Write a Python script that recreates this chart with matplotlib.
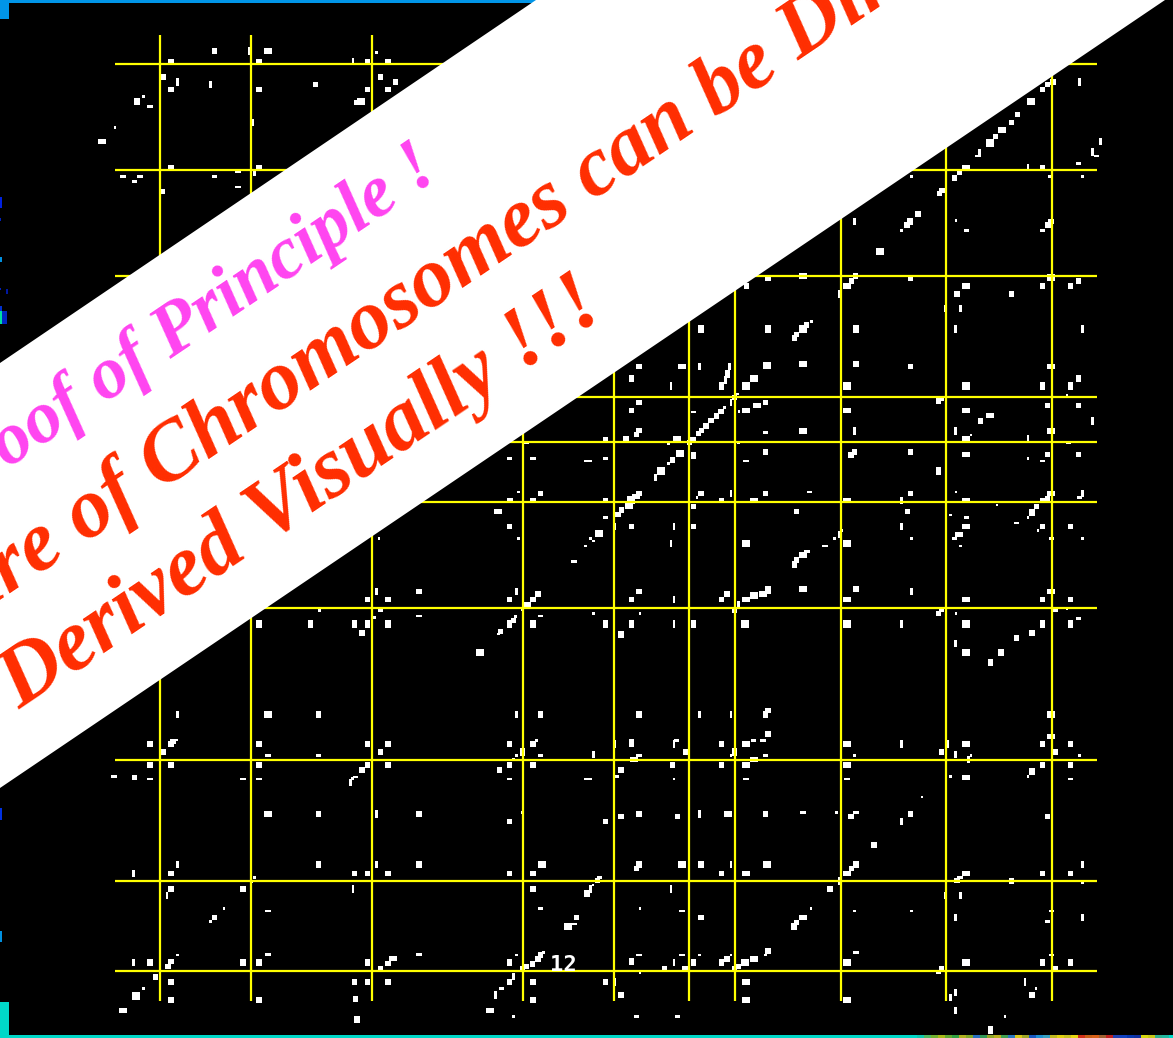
import numpy as np
import matplotlib
matplotlib.use("Agg")
import matplotlib.pyplot as plt
from matplotlib.patches import Polygon

# Dot-plot matches, per quadrant (crop readings), per dot shape
nw_s = [(1001,157),(381,289),(306,382),(1378,1476),(667,529)]
nw_m = [(454,184),(688,184),(976,184),(1031,184),(433,231),(1011,231),(1051,246),(454,269),(688,269),(839,254),(976,269),(1031,269),(570,153),(454,502),(688,502),(1355,1501),(1416,1501),(1437,1480),(430,575),(947,308)]
nw_l = [(959,304)]
nw_t = [(664,153),(938,184),(471,246),(560,254),(670,367),(677,518)]
nw_T = [(364,304)]
nw_w = [(399,320),(327,529),(372,529),(358,545),(570,529),(632,514),(632,561),(1354,1375),(1416,1375),(1560,1383),(1400,1329)]
nw_W = [(712,153),(271,425),(1323,1534)]

ne_s = [(865,529),(984,661),(838,692),(1325,529),(595,965),(1283,1187),(397,1182),(401,1234),(362,1222),(399,1329),(211,1330),(211,1390),(1025,1305),(1178,1375),(2,1383),(288,1492),(984,1476),(1095,1515),(1178,1553),(970,1545)]
ne_m = [(1217,269),(1230,254),(1245,246),(1090,410),(1133,367),(1150,344),(1217,502),(993,518),(981,534),(947,572),(940,580),(882,642),(853,675),(1232,675),(1240,665),
        (479,834),(862,836),(714,828),(703,843),(421,858),(1217,858),(1293,858),(1314,843),(987,882),(1133,882),(583,975),(556,1003),(550,1014),
        (132,1100),(862,1100),(715,1092),(938,1203),(388,1192),(132,1208),(472,1208),(1230,1216),(1314,1216),(111,1232),(1050,1263),(352,1235),(340,1248),(325,1262),(312,1278),(300,1292),(292,1300),
        (132,1292),(125,1303),(41,1319),(97,1317),(268,1327),(222,1380),(472,1356),(711,1356),(702,1365),(862,1356),(1230,1363),(1314,1363),
        (132,1480),(298,1480),(472,1480),(862,1480),(1230,1497),(41,1501),(85,1530),(75,1543),(354,1501),(278,1519),(556,1534),(854,1534),(1201,1519)]
ne_l = [(1185,304),(1075,429),(781,754),(1241,832),(572,987),(476,1096),(441,1135),(420,1158),(691,1158),(1012,1158),(241,1360),(190,1413),(105,1517),(110,1500)]
ne_t = [(1178,502),(1047,458),(1373,425),(1352,456),(712,665),(1317,246),(671,882),(955,925),(997,925),(984,987),(1325,987),(295,1100),(376,1100),(365,1140),(218,1158),(379,1208),(1352,1263),(712,1293),(984,1293),(1178,1317),(177,1433),(379,1480),(1325,1480),(838,1501)]
ne_T = [(861,665),(298,987),(479,987),(715,987),(370,1122),(354,1158),(111,1135),(1217,1158),(1293,1158),(1314,1135),(278,1367),(938,1413),(1189,1538)]
ne_w = [(1043,468),(1238,529),(1314,491),(1362,468),(1012,692),(1217,692),(278,1236),(472,1297),(1287,1329),(420,1383),(1217,1383),(41,1375),(591,1476),(1317,1492),(1012,1553),(41,1553)]
ne_W = [(1109,390),(1012,502),(691,858),(573,828),(1012,858),(247,1100),(573,1092),(1241,1100),(942,1195),(450,1216),(420,1232),(691,1232),(1012,1232),(1075,1247),(233,1317),(275,1319),(1241,1293),(573,1293),(1012,1317),(1012,1363),(1241,1480),(1220,1501),(125,1490),(441,1501),(691,1501),(1012,1501)]

sw_s = [(1007,55),(1378,55),(1556,78),(1389,270),(849,272),(995,293),(1370,290),(1325,342),(1426,661),(1372,707),(1365,718),(937,776),(1389,878),(677,1072),(670,1085),(595,1165),(560,1204),(471,1305),(1372,1305),(1445,1298),(381,1405),(1365,1490)]
sw_m = [(1354,20),(1114,215),(976,238),(1031,238),(1354,238),(1430,222),(1416,238),(1365,302),(1330,335),(962,339),
        (399,672),(454,672),(688,672),(976,672),(1031,672),(1354,672),(1416,672),(433,696),(1011,696),(460,665),
        (399,735),(454,735),(688,735),(976,735),(1031,735),(1354,735),(1416,735),(962,750),(1327,750),(357,773),
        (846,882),(1114,882),(1354,905),(454,1060),(942,1060),(976,1060),(1031,1060),(1354,1060),(1416,1060),
        (454,1107),(646,1107),(1416,1107),(570,1192),(1532,1192),(1437,1305),(1430,1317),(1415,1332),(1400,1340),(1389,1347),(1031,1330),(454,1325),(447,1340),(1011,1347),(413,1371),
        (454,1386),(942,1386),(976,1386),(1031,1386),(1354,1386),(1416,1386),(454,1440),(688,1440),(945,1437),(1416,1440)]
sw_l = [(1275,397),(1400,256),(712,583),(1440,1033),(1510,1220),(362,1428)]
sw_t = [(1000,215),(1372,215),(471,583),(1372,583),(932,788),(1000,882),(471,1033),(354,1060),(1000,1033),(444,1127),(938,1107),(354,1328),(1365,1370),(1317,1425)]
sw_T = [(1354,312),(688,312),(825,312),(942,312),(976,312),(1031,312),(1416,312),(846,583),(1437,583),(1389,696),(846,1033),(1114,1033),(1560,1120),(399,1328),(646,1328),(688,1328),(976,1328),(1354,1328),(949,1498)]
sw_w = [(1525,125),(1011,272),(1114,288),(1437,288),(465,660),(712,707),(846,707),(1437,707),(303,769),(399,777),(646,777),(688,777),(945,771),(1354,777),(1560,777),(1437,1165),(712,1173),(1525,1212),(712,1304),(1114,1304),(1333,1405)]
sw_W = [(712,882),(1045,1315),(327,1471),(1302,1471)]

se_s = [(10,63),(2,55),(657,55),(677,32),(865,55),(1205,32),(1325,55),(997,78),(10,281),(135,281),(984,281),(1283,265),(379,707),(712,707),(1025,707),(1317,707),(1178,769),(2,777),(226,777),(970,769),(893,831),(390,878),(663,878),(8,1095),(1325,1088),(135,1165),(594,1165),(712,1173),(865,1173),(295,1305),(379,1305),(472,1305),(135,1359),(1199,1405),(1116,1490)]
se_m = [(111,20),(278,20),(1217,20),(1293,20),(556,120),(132,215),(111,238),(368,222),(354,238),(715,207),(1217,238),(1293,238),(388,272),(938,281),(1189,339),(1147,354),
        (479,572),(479,642),(354,672),(1217,672),(1293,672),(257,696),(945,696),(1251,696),(83,750),(222,735),(354,735),(1217,735),(1293,735),
        (132,882),(472,882),(702,889),(862,882),(83,889),(236,889),(1230,889),(41,905),(764,975),(125,1045),(703,1045),(354,1060),(1217,1060),(1293,1060),(20,1082),(987,1082),(1133,1083),(646,1107),(556,1207),(298,1192),
        (479,1293),(368,1317),(398,1340),(201,1347),(945,1347),(1251,1347),(388,1347),(41,1386),(83,1425),(1189,1425)]
se_l = [(23,40),(420,70),(691,70),(441,226),(416,312),(691,312),(1012,312),(1012,397),(1241,583),(247,1033),(476,1033),(416,1328),(691,1328),(1012,1328)]
se_t = [(66,20),(226,20),(838,20),(218,70),(670,43),(226,238),(865,215),(399,253),(226,312),(838,312),(984,370),(295,583),(379,583),(226,672),(66,672),(838,672),(963,672),(10,704),(984,704),(1018,719),(295,882),(838,905),(379,1033),(1325,1033),(2,1107),(670,1083),(218,1107),(955,1126),(997,1126),(984,1192),(1325,1192),(226,1328),(66,1386),(1170,1386),(984,1417),(970,1433),(984,1471)]
se_T = [(550,133),(479,210),(41,312),(111,312),(278,312),(1217,312),(1293,312),(83,343),(1105,397),(1077,428),(132,583),(472,583),(111,669),(388,696),(1189,754),(132,1033),(298,1033),(715,1033),(549,1220),(111,1325),(278,1328),(354,1328),(1217,1328),(1293,1328),(1077,1530)]
se_w = [(632,78),(1147,9),(1241,55),(981,55),(584,95),(945,272),(1252,272),(1314,296),(440,661),(465,661),(233,661),(132,707),(472,707),(70,769),(420,777),(691,777),(1293,777),(573,878),(715,878),(25,1072),(995,1072),(247,1173),(1241,1173),(1230,1204),(132,1305),(247,1305),(715,1297),(1241,1305),(938,1359),(125,1490),(236,1490)]
se_W = [(1012,20),(992,43),(573,105),(465,222),(420,238),(573,207),(691,238),(1012,238),(1241,215),(1241,649),(420,672),(691,672),(1012,672),(118,719),(441,719),(420,735),(691,735),(1012,773),(372,882),(691,1060),(420,1060),(1012,1060),(573,1192),(441,1317),(257,1347),(420,1386),(420,1440),(691,1440)]

vertical_lines = [160, 251, 372, 523, 614, 689, 735, 841, 946, 1052]
horizontal_lines = [64, 170, 276, 397, 442, 502, 608, 760, 881, 971]

title_magenta = "Proof of Principle !"
title_red_1 = "Structure of Chromosomes can be Directly"
title_red_2 = "Derived Visually !!!"

mottled = ["#10c8b0","#50b860","#70b030","#a8b818","#60a830","#30a040","#b0b020","#80a828","#2870c0","#309858",
           "#90a828","#b8b020","#40a050","#2878c0","#d8c818","#a0a828","#1858c0","#2090d0","#38a0c0","#c0b820",
           "#e0d010","#c8c020","#e8d810","#d03018","#c86018","#d86018","#a06030","#c02020","#2040b0","#1040c0",
           "#0838b0","#1030a0","#d8d810","#c8c818","#30b090","#20b8a0"]

fig = plt.figure(figsize=(11.73, 10.38), dpi=100, facecolor="black")
ax = fig.add_axes([0, 0, 1, 1])
ax.set_xlim(0, 1173)
ax.set_ylim(1038, 0)
ax.axis("off")

SX_L, SX_R = 2.6576, 2.6895
quads = [(0, 0, SX_L, (nw_s, nw_m, nw_l, nw_t, nw_T, nw_w, nw_W)),
         (590, 0, SX_R, (ne_s, ne_m, ne_l, ne_t, ne_T, ne_w, ne_W)),
         (0, 520, SX_L, (sw_s, sw_m, sw_l, sw_t, sw_T, sw_w, sw_W)),
         (590, 520, SX_R, (se_s, se_m, se_l, se_t, se_T, se_w, se_W))]
shapes = [(2.6, 2.6), (5.4, 5.4), (8, 7.6), (2.8, 7.6), (5.4, 7.6), (5.4, 2.6), (8, 5.2)]
for x0, y0, sx, groups in quads:
    for pts, (w, h) in zip(groups, shapes):
        a = np.array(pts, dtype=float)
        px = x0 + a[:, 0] / sx
        py = y0 + a[:, 1] / 3
        ax.bar(px, h, width=w, bottom=py - h / 2, color="white", linewidth=0, zorder=2)

ax.vlines(vertical_lines, 35, 1001, color="#ffff00", linewidth=1.6, zorder=3)
ax.hlines(horizontal_lines, 115, 1097, color="#ffff00", linewidth=1.6, zorder=3)

ax.text(563.5, 965, "12", color="white", fontsize=16, family="DejaVu Sans Mono", weight="bold", ha="center", va="center", zorder=4)

# colour scraps around the border
ax.add_patch(plt.Rectangle((0, 0), 536, 3, color="#0095e8", linewidth=0, zorder=1))
ax.add_patch(plt.Rectangle((0, 0), 9, 19, color="#0095e8", linewidth=0, zorder=1))
ax.add_patch(plt.Rectangle((0, 1035), 1173, 3, color="#00d8c8", linewidth=0, zorder=1))
ax.add_patch(plt.Rectangle((0, 1002), 9, 33, color="#00d8c8", linewidth=0, zorder=1))
ax.bar(917 + 7 * np.arange(len(mottled)), 3, width=7, bottom=1035, align="edge", color=mottled, linewidth=0, zorder=1)
for x, y, w, h, c in [(0, 197, 1.5, 11, "#0020e0"), (0, 218, 1, 3, "#0020c0"), (0, 257, 1.5, 5, "#0090e0"),
                      (0, 288, 1, 2, "#0020c0"), (6, 289, 2, 5, "#0018a0"), (0, 306, 1.5, 5, "#0030d0"),
                      (0, 311, 1.5, 13, "#00e0a0"), (1.5, 311, 5.5, 13, "#0028c0"),
                      (0, 808, 1.5, 12, "#0030e0"), (0, 931, 1.5, 11, "#0090e0")]:
    ax.add_patch(plt.Rectangle((x, y), w, h, color=c, linewidth=0, zorder=1))

# white diagonal banner
ax.add_patch(Polygon([(0, 363), (536, 0), (1165, 0), (0, 788)], closed=True, facecolor="white", edgecolor="none", zorder=5))

ang = 34.0
serif = dict(family="Liberation Serif", weight="bold", style="italic", rotation=ang, rotation_mode="anchor", va="baseline", zorder=6)
ax.text(441, 177, title_magenta, color="#ff44f0", fontsize=53, ha="right", **serif)
ax.text(-206, 739, title_red_1, color="#ff2d00", fontsize=61, ha="left", **serif)
ax.text(20, 710, title_red_2, color="#ff2d00", fontsize=62, ha="left", **serif)

fig.savefig("out.png", dpi=100, facecolor="black")
